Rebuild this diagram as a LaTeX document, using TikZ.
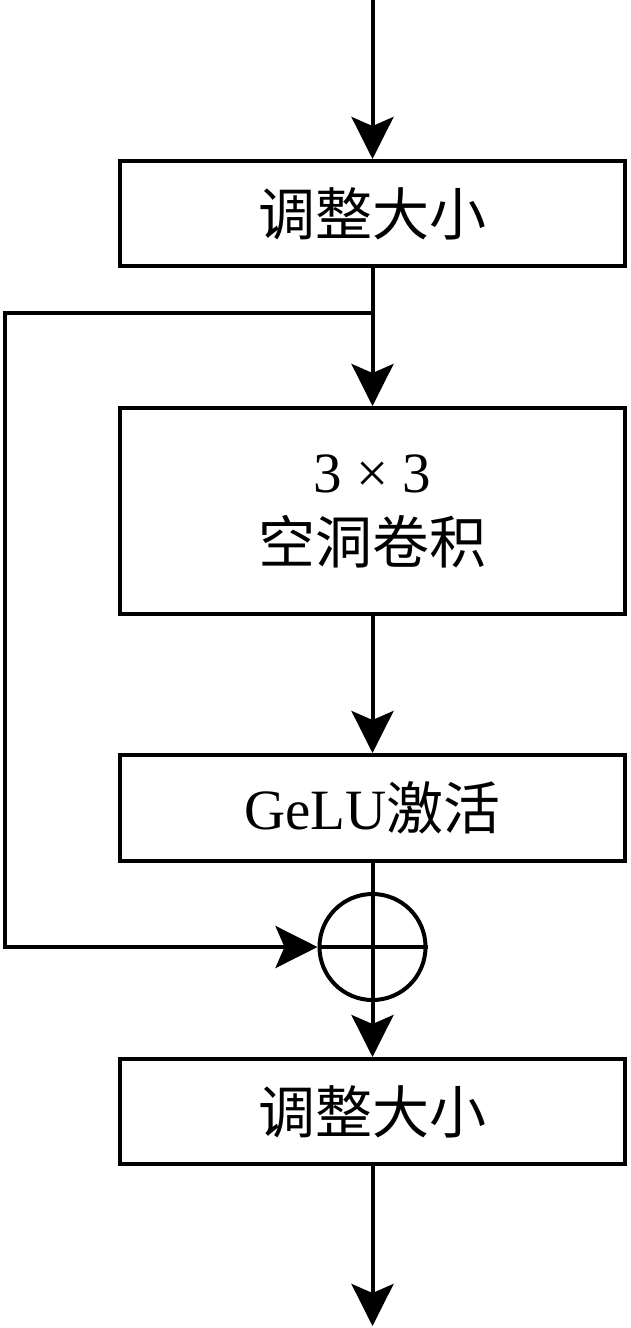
\documentclass[tikz,border=0pt]{standalone}
\usepackage{fontspec}
\setmainfont{Liberation Serif}
\newfontfamily\cjk{Noto Sans CJK SC}
\usetikzlibrary{arrows.meta}

\tikzset{
  block/.style={draw, line width=4pt, minimum width=505pt, inner sep=0pt,
    font=\fontsize{57}{71}\selectfont, align=center},
  arr/.style={-{Stealth[length=42pt,width=42pt,inset=9pt]}},
}

\begin{document}
\begin{tikzpicture}[x=1pt,y=-1pt,line width=4pt]
\useasboundingbox (0,0) rectangle (630,1328);
\path (372.5,213.5) node[block, minimum height=105pt] (rs1) {\cjk 调整大小}
		(372.5,511) node[block, minimum height=206pt] (conv) {3 × 3\\\cjk 空洞卷积}
		(372.5,808) node[block, minimum height=106pt] (gelu) {GeLU{\cjk 激活}}
		(372.5,1111.5) node[block, minimum height=105pt] (rs2) {\cjk 调整大小}
		(372.5,947) node[draw, circle, minimum size=106pt, inner sep=0pt] (plus) {}
;
\coordinate (in) at (372.5,0);
\coordinate (out) at (372.5,1326);
\coordinate (br) at (372.5,313);

\draw[arr] (in) -- (node cs:name=rs1);
\draw[arr] (node cs:name=rs1) -- (node cs:name=conv);
\draw[arr] (node cs:name=conv) -- (node cs:name=gelu);
\draw[arr] (node cs:name=gelu) -- (node cs:name=rs2);
\draw[arr] (node cs:name=rs2) -- (out);

\draw[arr] (br) -- (5,313) -- (5,947) -- (node cs:name=plus);
\draw (plus.west) -- (plus.east);

\end{tikzpicture}
\end{document}
